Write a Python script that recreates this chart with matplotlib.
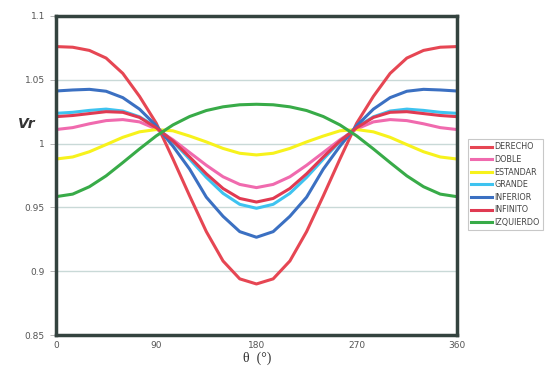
import matplotlib.pyplot as plt

theta = list(range(0, 361, 15))

derecho = [1.076, 1.0755, 1.073, 1.067, 1.055, 1.037, 1.016, 0.988, 0.959, 0.931, 0.908, 0.894, 0.890,
           0.894, 0.908, 0.931, 0.959, 0.988, 1.016, 1.037, 1.055, 1.067, 1.073, 1.0755, 1.076]
doble = [1.011, 1.0125, 1.0155, 1.018, 1.0188, 1.017, 1.0115, 1.003, 0.993, 0.983, 0.974, 0.968, 0.9655,
         0.968, 0.974, 0.983, 0.993, 1.003, 1.0115, 1.017, 1.0188, 1.018, 1.0155, 1.0125, 1.011]
estandar = [0.9879, 0.9895, 0.9936, 0.9992, 1.0049, 1.0092, 1.011, 1.010, 1.0059, 1.0013, 0.9962, 0.9924, 0.9911,
            0.9924, 0.9962, 1.0013, 1.0059, 1.010, 1.011, 1.0092, 1.0049, 0.9992, 0.9936, 0.9895, 0.9879]
grande = [1.0237, 1.0245, 1.026, 1.027, 1.0255, 1.021, 1.013, 1.0016, 0.9878, 0.9735, 0.961, 0.9524, 0.9493,
          0.9524, 0.961, 0.9735, 0.9878, 1.0016, 1.013, 1.021, 1.0255, 1.027, 1.026, 1.0245, 1.0237]
inferior = [1.0412, 1.042, 1.0425, 1.041, 1.036, 1.027, 1.014, 0.998, 0.980, 0.958, 0.943, 0.931, 0.9266,
            0.931, 0.943, 0.958, 0.980, 0.998, 1.014, 1.027, 1.036, 1.041, 1.0425, 1.042, 1.0412]
infinito = [1.0211, 1.022, 1.0235, 1.025, 1.0245, 1.0205, 1.0124, 1.002, 0.9895, 0.9763, 0.9648, 0.957, 0.9542,
            0.957, 0.9648, 0.9763, 0.9895, 1.002, 1.0124, 1.0205, 1.0245, 1.025, 1.0235, 1.022, 1.0211]
izquierdo = [0.9584, 0.9604, 0.9662, 0.9747, 0.9851, 0.9958, 1.006, 1.0146, 1.0212, 1.0259, 1.0288, 1.0304, 1.0308,
             1.0304, 1.0288, 1.0259, 1.0212, 1.0146, 1.006, 0.9958, 0.9851, 0.9747, 0.9662, 0.9604, 0.9584]

series = [("DERECHO", derecho, "#e64653"),
          ("DOBLE", doble, "#f06aae"),
          ("ESTANDAR", estandar, "#f7f21c"),
          ("GRANDE", grande, "#3ec3f0"),
          ("INFERIOR", inferior, "#3b70c2"),
          ("INFINITO", infinito, "#e03a52"),
          ("IZQUIERDO", izquierdo, "#38ab48")]

xticks = [0, 90, 180, 270, 360]
yticks = [0.85, 0.9, 0.95, 1.0, 1.05, 1.1]
ylabels = ["0.85", "0.9", "0.95", "1", "1.05", "1.1"]

fig = plt.figure(figsize=(5.52, 3.71), dpi=100)
ax = fig.add_axes([0.1014, 0.097, 0.7264, 0.860])

for y in [0.9, 0.95, 1.0, 1.05]:
    ax.axhline(y, color="#c9d9d7", lw=1.0, zorder=0)

for name, vals, col in series:
    ax.plot(theta, vals, color=col, lw=2.2, label=name)

ax.set_xlim(0, 360)
ax.set_ylim(0.85, 1.1)
ax.set_xticks(xticks)
ax.set_xticklabels([str(t) for t in xticks])
ax.set_yticks(yticks)
ax.set_yticklabels(ylabels)
ax.tick_params(axis="x", length=0, pad=4, labelsize=6.5, labelcolor="#555555")
ax.tick_params(axis="y", length=4, width=0.6, color="#aaaaaa", pad=4, labelsize=6.5, labelcolor="#555555")
for s in ax.spines.values():
    s.set_color("#34433f")
    s.set_linewidth(2.5)

fig.text(0.033, 0.655, "Vr", fontsize=10, fontstyle="italic", fontweight="bold", color="#333333")
fig.text(0.466, 0.035, "θ  (°)", family="Liberation Serif", fontsize=10, color="#333333",
         ha="center", va="center")

leg = fig.legend(loc="upper left", bbox_to_anchor=(0.847, 0.625), fontsize=5.8,
                 frameon=True, fancybox=False, edgecolor="#bbbbbb", handlelength=2.6,
                 handletextpad=0.3, labelspacing=0.45, borderpad=0.4, borderaxespad=0)
leg.get_frame().set_linewidth(0.8)
for t in leg.get_texts():
    t.set_color("#444444")

fig.savefig("out.png", dpi=100)
